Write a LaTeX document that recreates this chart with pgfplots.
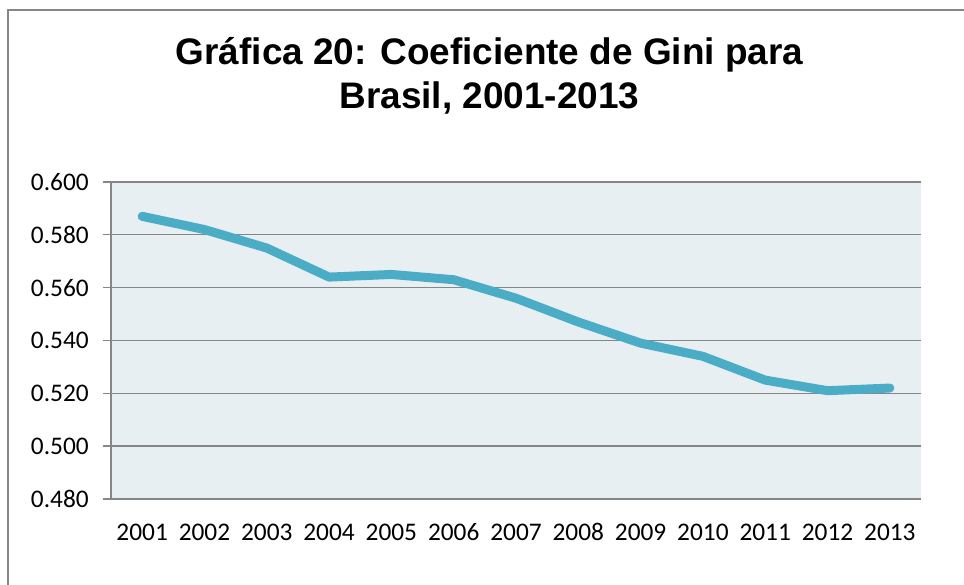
\documentclass[border=0pt]{standalone}
\usepackage{pgfplots}
\pgfplotsset{compat=1.18}
\usepackage{fontspec}
\setmainfont{Carlito}
\newfontfamily\titlefont{Liberation Sans}
\definecolor{linec}{HTML}{4BACC6}
\definecolor{bgc}{HTML}{E8EFF3}
\definecolor{gridc}{HTML}{868686}
\begin{document}
\begin{tikzpicture}[x=0.75pt,y=0.75pt]
\path[use as bounding box] (0,0) rectangle (964,585);
\draw[gridc, line width=1.5pt] (8,0) -- (8,575) -- (964,575);
\node[font=\titlefont\bfseries\fontsize{27.7}{33}\selectfont, align=center] at (489.5,509) {Gráfica 20: Coeficiente de Gini para\\Brasil, 2001-2013};
\begin{axis}[
  at={(83.25pt,64.5pt)}, anchor=south west,
  scale only axis, width=607.5pt, height=237.75pt,
  xmin=0.5, xmax=13.5, ymin=0.48, ymax=0.60,
  axis x line*=bottom, axis y line*=left,
  axis line style={gridc, line width=1pt},
  axis background/.style={fill=bgc},
  ytick={0.48,0.50,...,0.601},
  ymajorgrids, major grid style={gridc, line width=1pt},
  y tick label style={/pgf/number format/fixed, /pgf/number format/fixed zerofill, /pgf/number format/precision=3},
  /pgf/number format/assume math mode=true,
  tick label style={font=\fontsize{19}{20}\selectfont, text=black},
  y tick label style={anchor=east, inner sep=0pt, xshift=-10.5pt},
  xtick={1,...,13},
  xticklabels={2001,2002,2003,2004,2005,2006,2007,2008,2009,2010,2011,2012,2013},
  x tick label style={anchor=base, inner sep=0pt, yshift=-25.5pt},
  tick align=outside, major tick length=6pt,
  tick style={gridc, line width=1pt},
  major x tick style={draw=none},
  extra x ticks={0.5,1.5,...,13.5},
  extra x tick labels={},
  extra x tick style={major x tick style={gridc, line width=1pt}, grid=none},
  clip=false,
]
\addplot[linec, line width=6.75pt, line cap=round, line join=round] coordinates {
(1,0.587) (2,0.582) (3,0.575) (4,0.564) (5,0.565) (6,0.563) (7,0.556) (8,0.547) (9,0.539) (10,0.534) (11,0.525) (12,0.521) (13,0.522)
};
\end{axis}
\end{tikzpicture}
\end{document}
